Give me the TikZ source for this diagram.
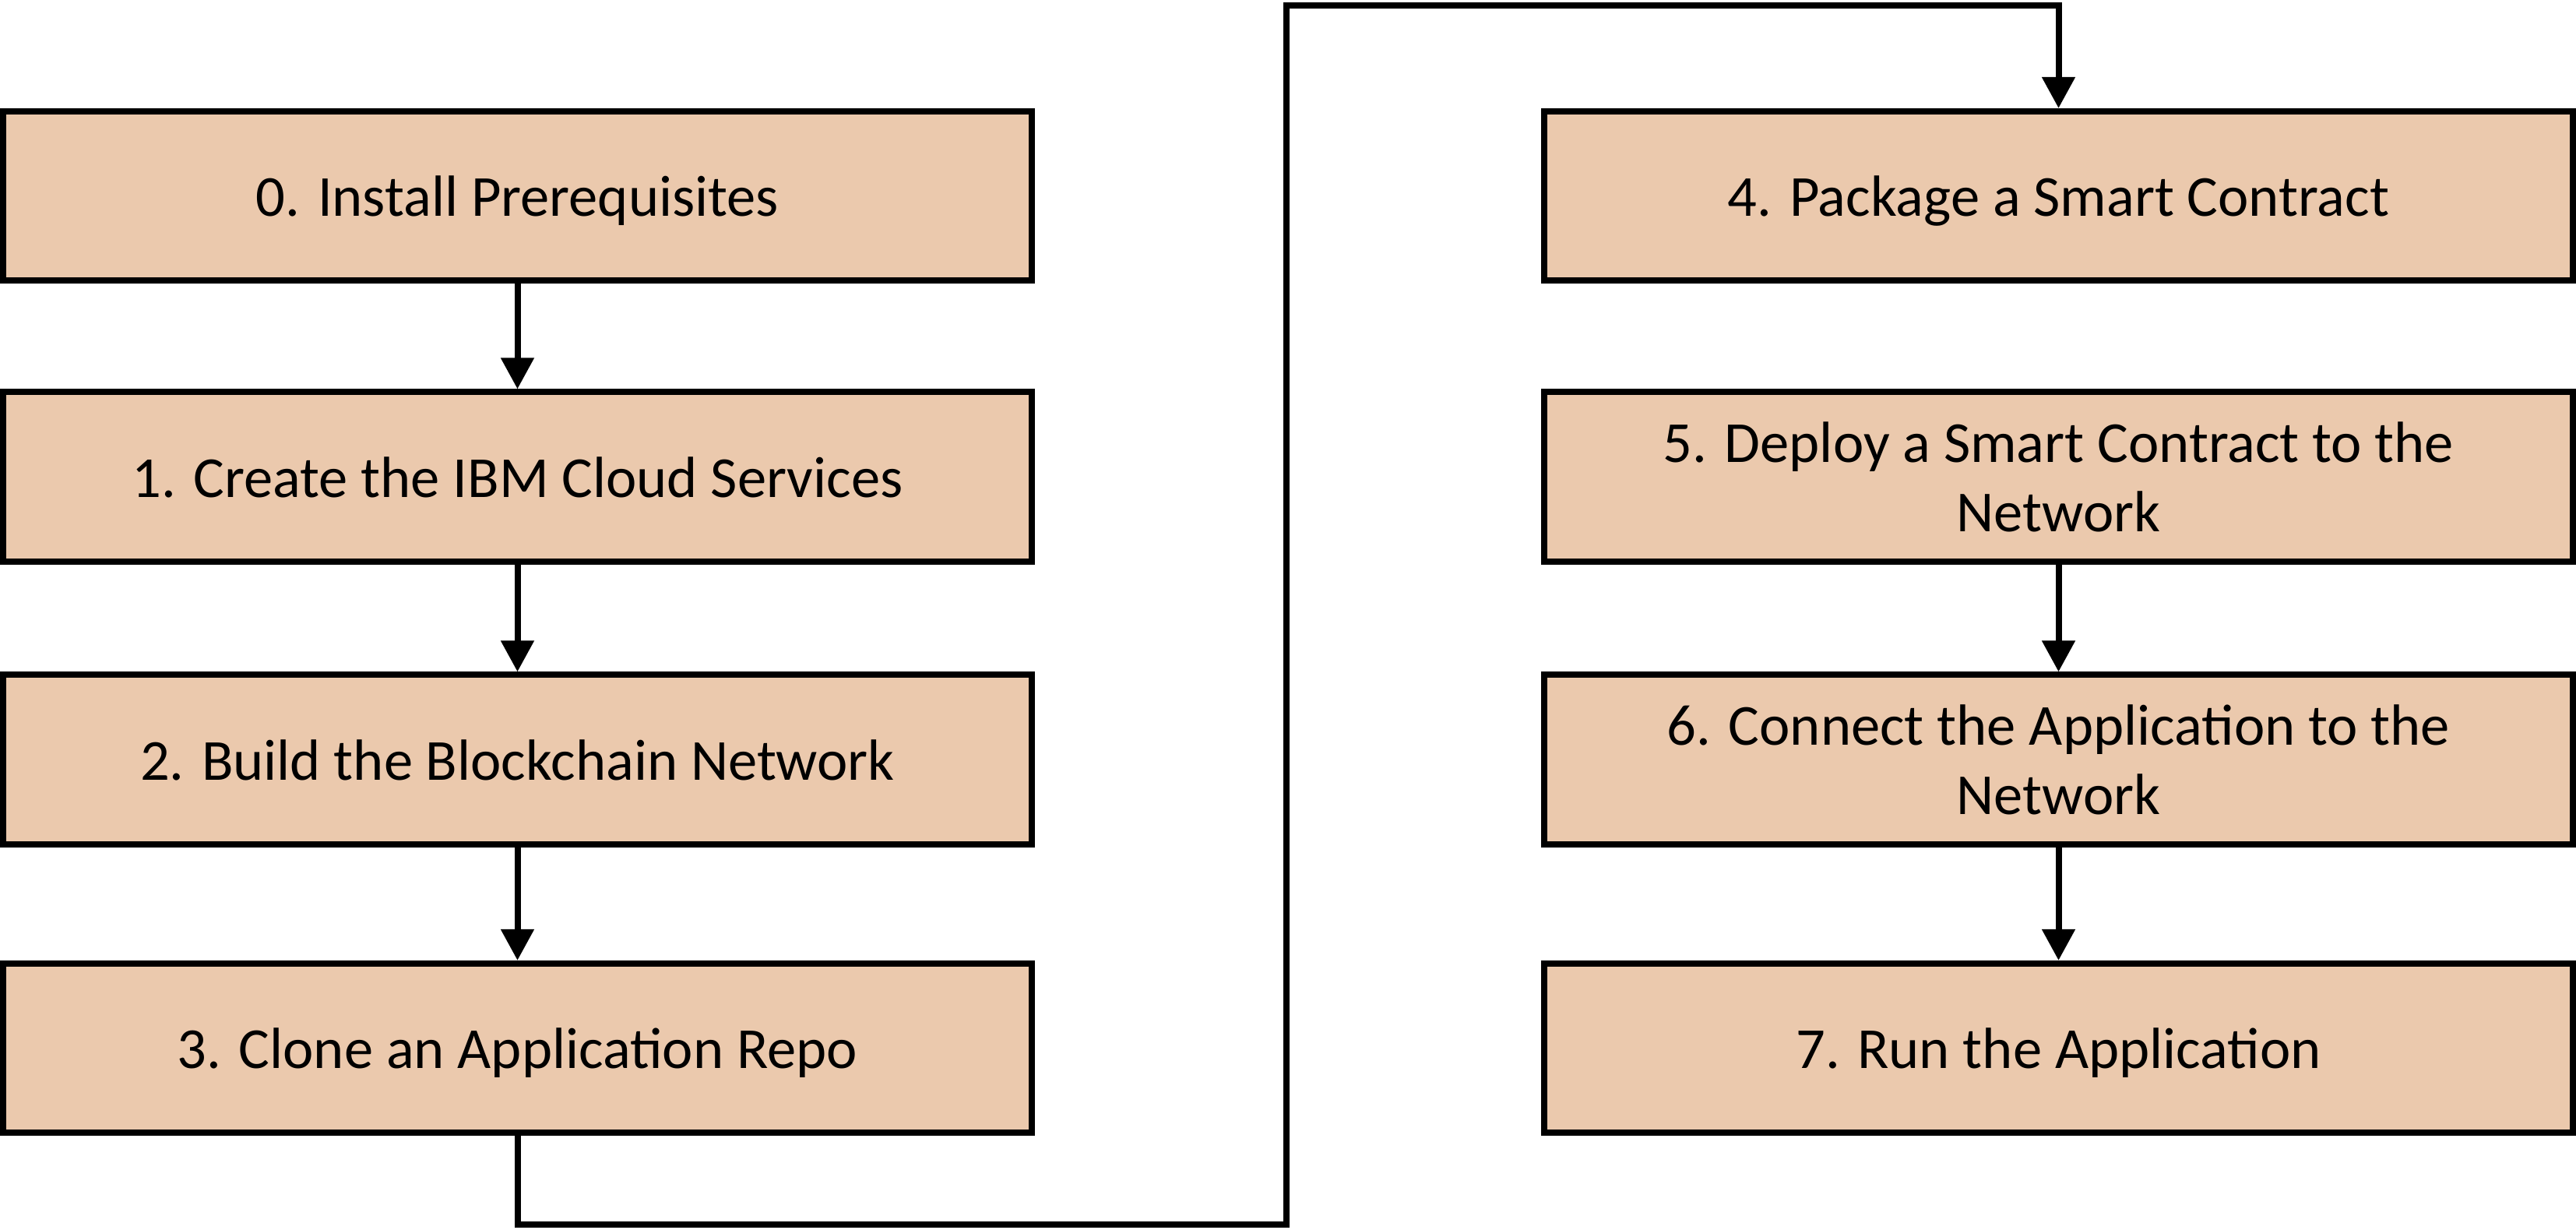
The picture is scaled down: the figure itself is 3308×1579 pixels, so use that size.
\documentclass[tikz,border=0pt]{standalone}
\usepackage{fontspec}
\setmainfont{Carlito}
\usetikzlibrary{arrows.meta}
\definecolor{boxfill}{RGB}{235,201,173}
\begin{document}
\begin{tikzpicture}[x=0.01cm,y=-0.01cm,
  stepbox/.style={draw=black,fill=boxfill,line width=0.08cm,minimum width=13.21cm,minimum height=2.17cm,inner sep=0pt,align=center,font=\fontsize{21.2}{25.3}\selectfont},
  oneline/.style={stepbox,text height=19pt,text depth=4.2pt},
  conn/.style={draw=black,line width=0.08cm,line join=miter},
  arr/.style={conn,-{Triangle[width=0.41cm,length=0.40cm]}}]
\useasboundingbox (0,0) rectangle (3308,1579);
\node[oneline] (b0) at (664.5,251.5) {0. Install Prerequisites};
\node[oneline] (b1) at (664.5,612) {1. Create the IBM Cloud Services};
\node[oneline] (b2) at (664.5,975) {2. Build the Blockchain Network};
\node[oneline] (b3) at (664.5,1345.5) {3. Clone an Application Repo};
\node[oneline] (b4) at (2643.5,251.5) {4. Package a Smart Contract};
\node[stepbox] (b5) at (2643.5,612) {5. Deploy a Smart Contract to the\\Network};
\node[stepbox] (b6) at (2643.5,975) {6. Connect the Application to the\\Network};
\node[oneline] (b7) at (2643.5,1345.5) {7. Run the Application};
\coordinate (low) at (1652,1572);
\coordinate (high) at (1652,7);
\draw[arr] (b0.south) -- (b1.north);
\draw[arr] (b1.south) -- (b2.north);
\draw[arr] (b2.south) -- (b3.north);
\draw[arr] (b3.south) |- (low) -- (high) -| (b4.north);
\draw[arr] (b5.south) -- (b6.north);
\draw[arr] (b6.south) -- (b7.north);
\end{tikzpicture}
\end{document}
